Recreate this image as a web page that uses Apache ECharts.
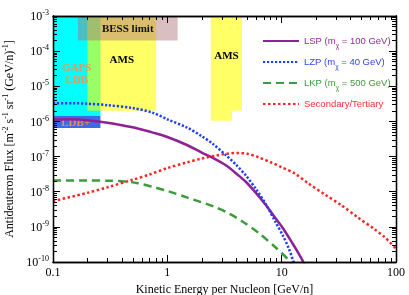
<!DOCTYPE html>
<html>
<head>
<meta charset="utf-8">
<script src="https://cdn.jsdelivr.net/npm/echarts@6/dist/echarts.min.js"></script>
<style>html,body{margin:0;padding:0;background:#fff}#c{width:409px;height:295px}</style>
</head>
<body>
<div id="c"></div>
<script>
// ---------- data ----------
const xMajor = [0.1, 1, 10, 100];
const xTickLabels = ['0.1', '1', '10', '100'];
const yMajor = [1e-10, 1e-9, 1e-8, 1e-7, 1e-6, 1e-5, 1e-4, 1e-3];
const yTickExp = ['-10', '-9', '-8', '-7', '-6', '-5', '-4', '-3'];

// LSP (m_chi = 100 GeV)
const lspE = [0.1, 0.13, 0.17, 0.22, 0.3, 0.4, 0.55, 0.75, 1.0, 1.5, 2.0, 2.5, 3.3, 4.0, 4.9, 6.0, 7.3, 8.8, 10.3, 12.5, 14, 15.5, 16.5];
const lspF = [1.12e-6, 1.15e-6, 1.13e-6, 1.05e-6, 9.2e-7, 7.8e-7, 6.3e-7, 4.8e-7, 3.6e-7, 2.1e-7, 1.3e-7, 9.2e-8, 5.5e-8, 3.3e-8, 1.86e-8, 9e-9, 4.1e-9, 1.8e-9, 9e-10, 3.3e-10, 1.8e-10, 1e-10, 7e-11];
// LZP (m_chi = 40 GeV)
const lzpE = [0.1, 0.15, 0.2, 0.3, 0.5, 0.75, 1.0, 1.5, 2.0, 2.5, 3.3, 4.0, 4.9, 6.0, 7.3, 8.8, 10.3, 11.5, 12.6, 13.5];
const lzpF = [3.3e-6, 3.3e-6, 3.2e-6, 2.9e-6, 2.4e-6, 1.75e-6, 1.15e-6, 6.6e-7, 3.8e-7, 2.3e-7, 1.05e-7, 5.8e-8, 2.8e-8, 1.15e-8, 4.3e-9, 1.4e-9, 5.5e-10, 2.5e-10, 1.1e-10, 6e-11];
// LKP (m_chi = 500 GeV)
const lkpE = [0.1, 0.2, 0.3, 0.4, 0.55, 0.76, 1.0, 1.48, 2.0, 2.5, 3.46, 4.5, 6.36, 8.96, 11.6, 12.5];
const lkpF = [2.1e-8, 2.1e-8, 2.05e-8, 2.0e-8, 1.75e-8, 1.35e-8, 1.05e-8, 6.9e-9, 5e-9, 3.9e-9, 2.4e-9, 1.45e-9, 6.5e-10, 2.5e-10, 1.1e-10, 7e-11];
// Secondary / Tertiary
const secE = [0.1, 0.2, 0.3, 0.5, 0.7, 1.0, 1.5, 2.0, 2.7, 3.3, 4.0, 5.0, 6.3, 8.0, 10, 13, 17, 24, 33, 47, 65, 80, 100];
const secF = [5.4e-9, 9.3e-9, 1.34e-8, 2.2e-8, 3.1e-8, 4.7e-8, 6.9e-8, 8.8e-8, 1.08e-7, 1.2e-7, 1.26e-7, 1.2e-7, 9.5e-8, 6.9e-8, 5e-8, 3.3e-8, 1.75e-8, 8.2e-9, 4.2e-9, 1.8e-9, 8.5e-10, 5e-10, 2.4e-10];

// experiment sensitivity regions: [Emin, Emax, fluxMin, fluxMax]
const gapsLdb = [0.1, 0.26, 1.45e-6, 1e-3];
const ldbPlus = [0.1, 0.26, 6.5e-7, 1.45e-6];
const amsLow = [0.2, 0.8, 2e-6, 1e-3];
const amsHighA = [2.4, 3.68, 1.05e-6, 1e-3];
const amsHighB = [3.68, 4.5, 2e-6, 1e-3];
const bessLimit = [0.165, 1.23, 2e-4, 1e-3];

// ---------- helpers ----------
function pairs(xs, ys) { return xs.map((x, i) => [x, ys[i]]); }
function minorTicks(lo, hi) {
  const out = [];
  for (let d = lo; d < hi; d++) for (let m = 2; m <= 9; m++) out.push(m * Math.pow(10, d));
  return out;
}
const xMinor = minorTicks(-1, 2);
const yMinor = minorTicks(-10, -3);
const SERIF = '"Liberation Serif","Times New Roman",serif';
const SANS = '"Liberation Sans",Arial,sans-serif';

function box(b, color, label) {
  const a = { xAxis: b[0], yAxis: b[2], itemStyle: { color: color } };
  if (label) { a.name = label.text; a.label = Object.assign({ show: true, position: 'inside', fontFamily: SERIF, fontWeight: 'bold', fontSize: 11, lineHeight: 12 }, label); }
  else a.label = { show: false };
  return [a, { xAxis: b[1], yAxis: b[3] }];
}

function xAx(pos, ticks, len, labels) {
  return {
    type: 'log', logBase: 10, min: 0.1, max: 100, position: pos, z: 10,
    axisLine: { show: true, onZero: false, lineStyle: { color: '#000', width: 1.3 } },
    axisTick: { show: true, inside: true, length: len, customValues: ticks, lineStyle: { color: '#000', width: 1 } },
    axisLabel: {
      show: labels, customValues: xMajor, margin: 5, color: '#000', fontFamily: SERIF, fontSize: 12,
      formatter: v => { const i = xMajor.findIndex(t => Math.abs(Math.log10(t) - Math.log10(v)) < 1e-6); return i >= 0 ? xTickLabels[i] : ''; }
    },
    splitLine: { show: false },
    name: labels ? 'Kinetic Energy per Nucleon [GeV/n]' : '',
    nameLocation: 'middle', nameGap: 13,
    nameTextStyle: { color: '#000', fontFamily: SERIF, fontSize: 12 }
  };
}
function yAx(pos, ticks, len, labels) {
  return {
    type: 'log', logBase: 10, min: 1e-10, max: 1e-3, position: pos, z: 10,
    axisLine: { show: true, onZero: false, lineStyle: { color: '#000', width: 1.3 } },
    axisTick: { show: true, inside: true, length: len, customValues: ticks, lineStyle: { color: '#000', width: 1 } },
    axisLabel: {
      show: labels, customValues: yMajor, margin: 4, color: '#000',
      formatter: v => { const i = yMajor.findIndex(t => Math.abs(Math.log10(t) - Math.log10(v)) < 1e-6); return i >= 0 ? '{b|10}{s|' + yTickExp[i] + '}' : ''; },
      rich: {
        b: { fontFamily: SERIF, fontSize: 12, lineHeight: 14, verticalAlign: 'bottom', color: '#000' },
        s: { fontFamily: SERIF, fontSize: 8, lineHeight: 9, verticalAlign: 'top', color: '#000' }
      }
    },
    splitLine: { show: false },
    name: labels ? '{n|Antideuteron Flux [m}{s|-2}{n| s}{s|-1}{n| sr}{s|-1}{n| (GeV/n)}{s|-1}{n|]}' : '',
    nameLocation: 'middle', nameGap: 34,
    nameTextStyle: {
      color: '#000',
      rich: {
        n: { fontFamily: SERIF, fontSize: 12, lineHeight: 14, verticalAlign: 'bottom', color: '#000' },
        s: { fontFamily: SERIF, fontSize: 8, lineHeight: 9, verticalAlign: 'top', color: '#000' }
      }
    }
  };
}

const legendText = {
  'LSP': '{a|LSP (m}{as|χ}{a| = 100 GeV)}',
  'LZP': '{b|LZP (m}{bs|χ}{b| = 40 GeV)}',
  'LKP': '{c|LKP (m}{cs|χ}{c| = 500 GeV)}',
  'Secondary/Tertiary': '{d|Secondary/Tertiary}'
};
const cPurple = '#8e2194', cBlue = '#1f3cff', cGreen = '#3c9c3c', cRed = '#ff2424';
function lt(c) { return { fontFamily: SANS, fontSize: 9.5, lineHeight: 12, color: c, verticalAlign: 'middle' }; }
function ls(c) { return { fontFamily: SANS, fontSize: 6.5, lineHeight: 12, color: c, verticalAlign: 'bottom', padding: [0, 0, -3, 0] }; }

const chart = echarts.init(document.getElementById('c'), null, { renderer: 'canvas' });
chart.setOption({
  animation: false,
  backgroundColor: '#fff',
  grid: { left: 53, right: 13, top: 16, bottom: 33, containLabel: false, outerBoundsMode: 'none' },
  xAxis: [xAx('bottom', xMajor, 7, true), xAx('top', xMajor, 7, false), xAx('bottom', xMinor, 4, false), xAx('top', xMinor, 4, false)],
  yAxis: [yAx('left', yMajor, 7, true), yAx('right', yMajor, 7, false), yAx('left', yMinor, 4, false), yAx('right', yMinor, 4, false)],
  legend: {
    orient: 'vertical', left: 257, top: 31, itemWidth: 36, itemHeight: 10, itemGap: 7,
    data: ['LSP', 'LZP', 'LKP', 'Secondary/Tertiary'],
    itemStyle: { opacity: 0 },
    formatter: n => legendText[n],
    textStyle: {
      rich: { a: lt('#8e2a92'), as: ls('#8e2a92'), b: lt('#3344ee'), bs: ls('#3344ee'), c: lt('#3c9a3c'), cs: ls('#3c9a3c'), d: lt('#ff3030') }
    }
  },
  series: [
    {
      type: 'line', name: 'boxesUnder', data: [], z: 1, silent: true,
      markArea: {
        silent: true,
        data: [
          box(gapsLdb, '#00ffff', { text: 'GAPS\nLDB', color: '#e69a5c', offset: [0, 8] }),
          box(ldbPlus, '#4169e6', { text: 'LDB+', color: '#e8904a', offset: [-1, 1] })
        ]
      }
    },
    { type: 'line', name: 'LSP', data: pairs(lspE, lspF), smooth: 0.3, symbol: 'none', z: 2, color: cPurple, lineStyle: { color: cPurple, width: 2.5 } },
    { type: 'line', name: 'LZP', data: pairs(lzpE, lzpF), smooth: 0.3, symbol: 'none', z: 2, color: cBlue, lineStyle: { color: cBlue, width: 2.5, type: [2.2, 1.8] } },
    { type: 'line', name: 'LKP', data: pairs(lkpE, lkpF), smooth: 0.3, symbol: 'none', z: 2, color: cGreen, lineStyle: { color: cGreen, width: 2.5, type: [8, 5] } },
    { type: 'line', name: 'Secondary/Tertiary', data: pairs(secE, secF), smooth: 0.3, symbol: 'none', z: 2, color: cRed, lineStyle: { color: cRed, width: 2.5, type: [2.5, 2.5] } },
    {
      type: 'line', name: 'boxesOver', data: [], z: 3, silent: true,
      markArea: {
        silent: true,
        data: [
          box(amsLow, 'rgba(255,255,0,0.6)', { text: 'AMS', color: '#000', offset: [0, -3] }),
          box(amsHighA, 'rgba(255,255,0,0.6)', { text: 'AMS', color: '#000', offset: [5, -12] }),
          box(amsHighB, 'rgba(255,255,0,0.6)', null),
          box(bessLimit, 'rgba(170,110,120,0.45)', { text: 'BESS limit', color: '#111', offset: [0, 1] })
        ]
      }
    }
  ]
});
</script>
</body>
</html>
